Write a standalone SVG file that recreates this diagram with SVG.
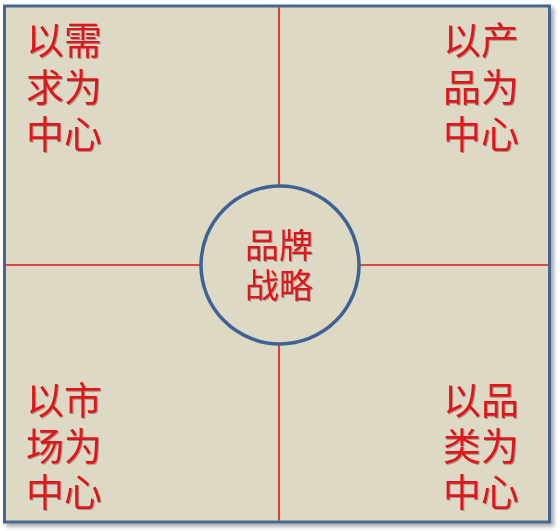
<svg xmlns="http://www.w3.org/2000/svg" width="560" height="531" viewBox="0 0 560 531">
<style>
.t{font-family:"Noto Sans CJK SC","Noto Sans",sans-serif;fill:#e0141a;font-size:38px;filter:url(#ts)}
.c{font-size:34px}
.ln{stroke:#e0141a;stroke-width:1.6;fill:none}
</style>
<defs>
<filter id="sh" x="-5%" y="-5%" width="115%" height="115%"><feDropShadow dx="3" dy="3" stdDeviation="2" flood-color="#000" flood-opacity="0.35"/></filter>
<filter id="ts" x="-10%" y="-10%" width="130%" height="130%"><feDropShadow dx="1" dy="1" stdDeviation="0.6" flood-color="#000" flood-opacity="0.3"/></filter>
</defs>
<rect width="560" height="531" fill="#ffffff"/>
<g id="frame"><rect x="4.5" y="6" width="545" height="516" fill="#ddd9c5" stroke="#4a6690" stroke-width="3" filter="url(#sh)"/></g>
<g id="connectors">
<line class="ln" x1="279" y1="7.5" x2="279" y2="520.5"/>
<line class="ln" x1="6" y1="265" x2="548" y2="265"/>
</g>
<g id="center"><circle cx="280" cy="265" r="79" fill="#ddd9c5" stroke="#3f6294" stroke-width="3.5"/>
<text class="t c" x="245" y="258">品牌</text><text class="t c" x="245" y="298">战略</text></g>
<g id="tl"><text class="t" x="26" y="54">以需</text><text class="t" x="26" y="101">求为</text><text class="t" x="26" y="148">中心</text></g>
<g id="tr"><text class="t" x="443" y="54">以产</text><text class="t" x="443" y="101">品为</text><text class="t" x="443" y="148">中心</text></g>
<g id="bl"><text class="t" x="26" y="414">以市</text><text class="t" x="26" y="460">场为</text><text class="t" x="26" y="506">中心</text></g>
<g id="br"><text class="t" x="443" y="414">以品</text><text class="t" x="443" y="460">类为</text><text class="t" x="443" y="506">中心</text></g>
</svg>
